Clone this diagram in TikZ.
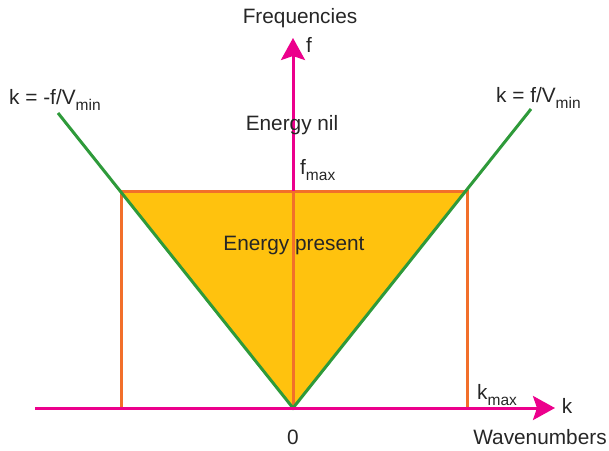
\documentclass[tikz,border=0pt]{standalone}
\usepackage{fontspec}
\setmainfont{Liberation Sans}
\usepackage{xcolor}
\usetikzlibrary{positioning,arrows.meta}
\definecolor{axiscol}{HTML}{EC008C}
\definecolor{boxcol}{HTML}{F26F2A}
\definecolor{linecol}{HTML}{2E9A3A}
\definecolor{fillcol}{HTML}{FFC20E}
\newcommand{\lowsub}[1]{\raisebox{-0.28em}{\fontsize{15.5}{18}\selectfont #1}}
\tikzset{
axis/.style={
draw=axiscol,
line width=3pt,
-{Stealth[length=22pt,width=24pt,inset=4pt]}
},
boxline/.style={
draw=boxcol,
line width=3pt
},
velline/.style={
draw=linecol,
line width=3pt
},
lbl/.style={
inner sep=0pt,
text=black!85,
font=\fontsize{20.8}{24}\selectfont
}
}

\begin{document}
\begin{tikzpicture}[x=1pt,y=-1pt]
\useasboundingbox (0,0) rectangle (609,450);
\coordinate (O) at (293,408);
\coordinate (xa) at (35,408);
\coordinate (xb) at (555,408);
\coordinate (yb) at (293,38);
\coordinate (tl) at (121,191);
\coordinate (tr) at (467,191);
\coordinate (bl) at (121,408);
\coordinate (br) at (467,408);
\coordinate (tc) at (293,191);
\coordinate (gl) at (58,113);
\coordinate (gr) at (531,109);

% energy region
\fill[fillcol] (tl)--(tr)--(O)--cycle;
\draw[boxline] (bl)--(tl)--(tr)--(br);
\draw[boxline] (O)--(tc);
\draw[velline] (gl)--(O)--(gr);

% axes
\draw[axis] (xa)--(xb);
\draw[axis] (tc)--(yb);

% labels
\node[lbl](freq) at (300,18){Frequencies};
\node[lbl](fy) at (309,45){f};
\node[lbl,anchor=west](vl) at (9,100){k = -f/V\lowsub{min}};
\node[lbl,anchor=west](vr) at (496,98){k = f/V\lowsub{min}};
\node[lbl](nil) at (292,125){Energy nil};
\node[lbl,anchor=west](fmax) at (300,170){f\lowsub{max}};
\node[lbl](pres) at (294,245){Energy present};
\node[lbl,anchor=west](kmax) at (477,395){k\lowsub{max}};
\node[lbl](kx) at (567,406){k};
\node[lbl](wave) at (540,437){Wavenumbers};
\node[lbl](zero) at (293,437){0};
\end{tikzpicture}
\end{document}
